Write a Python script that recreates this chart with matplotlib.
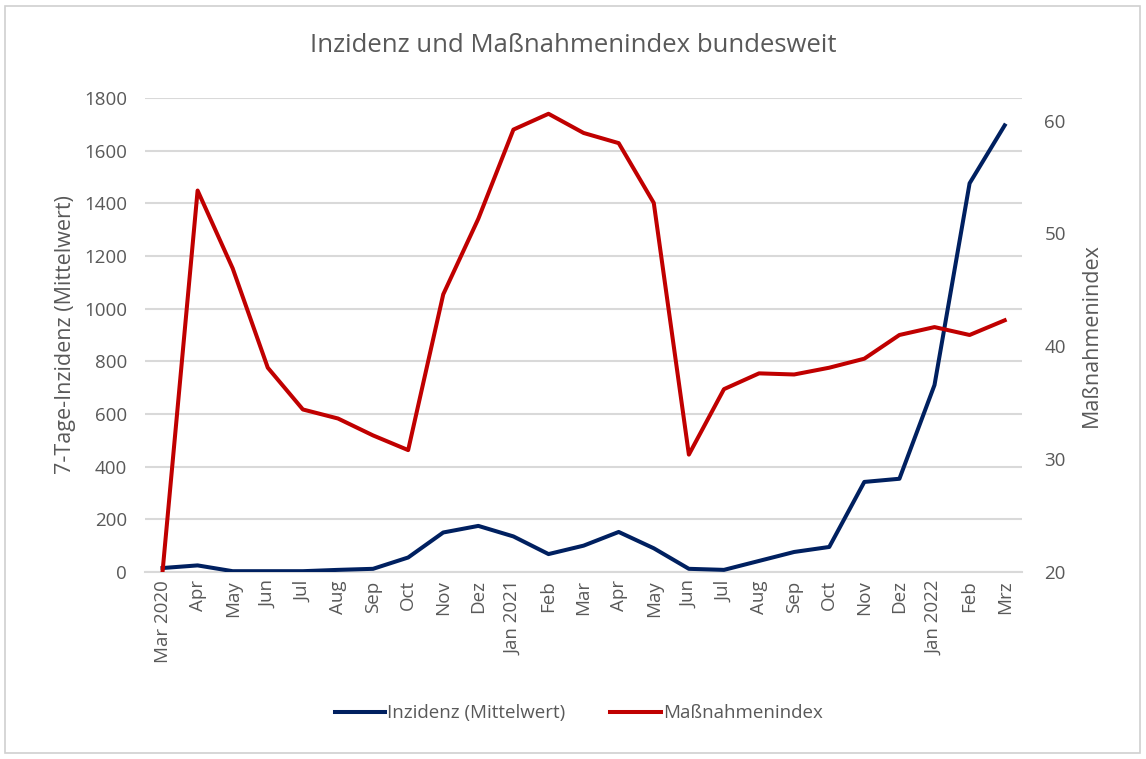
import matplotlib
matplotlib.use("Agg")
import matplotlib.pyplot as plt
from matplotlib.patches import Rectangle

months = ["Mar 2020", "Apr", "May", "Jun", "Jul", "Aug", "Sep", "Oct", "Nov", "Dez",
          "Jan 2021", "Feb", "Mar", "Apr", "May", "Jun", "Jul", "Aug", "Sep", "Oct",
          "Nov", "Dez", "Jan 2022", "Feb", "Mrz"]

# 7-Tage-Inzidenz (Mittelwert), left axis
inzidenz = [15, 25, 3, 3, 3, 8, 12, 55, 150, 175, 135, 68, 100, 152, 90, 12, 8,
            42, 76, 95, 342, 354, 710, 1476, 1696]

# Massnahmenindex, right axis
massnahmen = [20.0, 53.8, 46.9, 38.1, 34.4, 33.6, 32.1, 30.8, 44.6, 51.3, 59.2, 60.6,
              58.9, 58.0, 52.7, 30.4, 36.2, 37.6, 37.5, 38.1, 38.9, 41.0, 41.7, 41.0, 42.3]

text_col = "#595959"
grid_col = "#d9d9d9"
blue = "#002060"
red = "#c00000"

plt.rcParams["font.family"] = ["Open Sans", "DejaVu Sans"]

fig = plt.figure(figsize=(11.46, 7.59), dpi=100)
fig.patches.append(Rectangle((0.004, 0.008), 0.991, 0.984, transform=fig.transFigure,
                             fill=False, edgecolor="#d0d0d0", linewidth=1.2))

ax = fig.add_axes([0.1265, 0.2464, 0.7655, 0.6245])
x = list(range(len(months)))
l1, = ax.plot(x, inzidenz, color=blue, linewidth=2.9, label="Inzidenz (Mittelwert)",
              solid_joinstyle="round", zorder=3)
ax.set_ylim(0, 1800)
ax.set_yticks(range(0, 1801, 200))
ax.set_xlim(-0.5, len(months) - 0.5)
ax.set_xticks(x)
ax.set_xticklabels(months, rotation=90, fontsize=13.5, color=text_col)
ax.tick_params(axis="y", labelsize=13.5, labelcolor=text_col, length=0, pad=13)
ax.tick_params(axis="x", length=0, pad=6)
ax.grid(axis="y", color=grid_col, linewidth=1.5)
ax.set_axisbelow(True)
for s in ax.spines.values():
    s.set_visible(False)
ax.spines["bottom"].set_visible(True)
ax.spines["bottom"].set_color(grid_col)
ax.spines["bottom"].set_linewidth(1.5)
ax.set_ylabel("7-Tage-Inzidenz (Mittelwert)", fontsize=15.5, color=text_col, labelpad=6)

ax2 = ax.twinx()
l2, = ax2.plot(x, massnahmen, color=red, linewidth=2.9, label="Maßnahmenindex",
               solid_joinstyle="round", zorder=3)
ax2.set_ylim(20, 62)
ax2.set_yticks([20, 30, 40, 50, 60])
ax2.tick_params(axis="y", labelsize=13.5, labelcolor=text_col, length=0, pad=16)
for s in ax2.spines.values():
    s.set_visible(False)
ax2.set_ylabel("Maßnahmenindex", fontsize=15.5, color=text_col, labelpad=11)

fig.suptitle("Inzidenz und Maßnahmenindex bundesweit", y=0.957, fontsize=18.5, color=text_col)

leg = fig.legend(handles=[l1, l2], loc="center", bbox_to_anchor=(0.505, 0.06), ncol=2,
                 frameon=False, fontsize=13.5, handlelength=2.7, handletextpad=0.1,
                 columnspacing=2.4)
for t in leg.get_texts():
    t.set_color(text_col)

fig.savefig("out.png", dpi=100)
